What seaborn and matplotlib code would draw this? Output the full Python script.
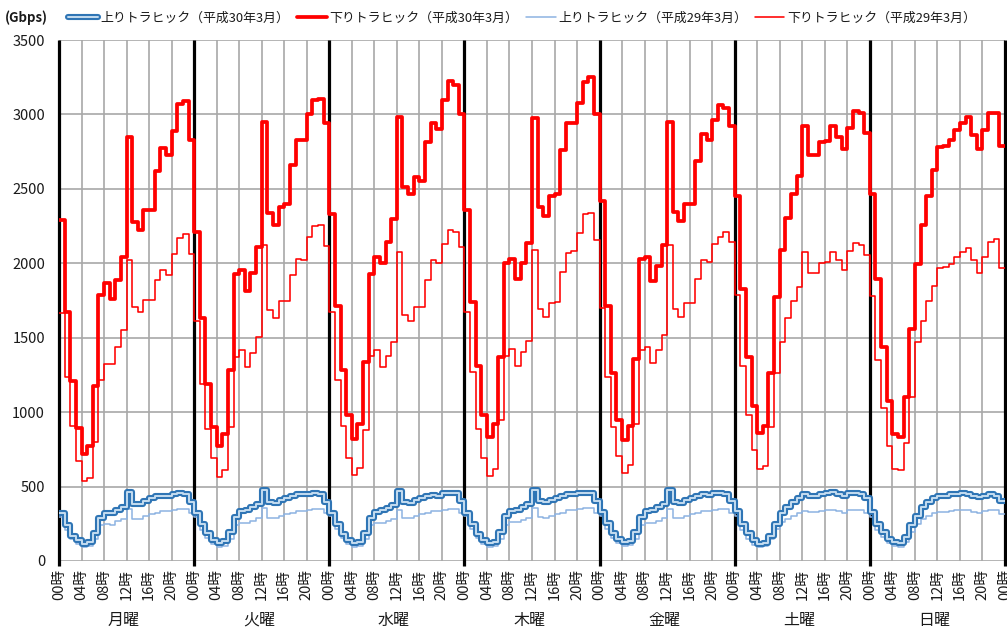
import numpy as np
import pandas as pd
import matplotlib
matplotlib.use("Agg")
import matplotlib.pyplot as plt
import matplotlib.transforms as mtransforms
import matplotlib.patheffects as pe
from matplotlib.lines import Line2D
import seaborn as sns

# Weekday names and hour labels along the x axis
days = ["月曜", "火曜", "水曜", "木曜", "金曜", "土曜", "日曜"]
hour_labels = ["00時", "04時", "08時", "12時", "16時", "20時"]
y_ticks = [0, 500, 1000, 1500, 2000, 2500, 3000, 3500]
unit_label = "(Gbps)"
series_labels = [
    "上りトラヒック（平成30年3月）",
    "下りトラヒック（平成30年3月）",
    "上りトラヒック（平成29年3月）",
    "下りトラヒック（平成29年3月）",
]

# Hourly traffic in Gbps, Monday 00h through Sunday 23h (one row per day)
up_h30 = [
    320, 240, 170, 140, 115, 130, 190, 290, 320, 320, 345, 365, 465, 380, 380, 405, 420, 435, 440, 435, 450, 455, 450, 395,
    320, 250, 185, 140, 120, 135, 195, 295, 335, 345, 365, 385, 480, 395, 390, 410, 425, 435, 450, 450, 450, 455, 450, 395,
    325, 250, 180, 140, 120, 130, 190, 290, 330, 340, 355, 375, 470, 395, 390, 410, 420, 440, 445, 440, 455, 460, 455, 400,
    325, 250, 180, 140, 120, 130, 195, 300, 335, 345, 360, 380, 480, 400, 395, 410, 425, 440, 450, 450, 455, 460, 455, 400,
    330, 255, 185, 145, 125, 135, 195, 295, 335, 340, 360, 380, 475, 395, 390, 410, 425, 440, 450, 445, 455, 460, 450, 400,
    335, 250, 185, 140, 115, 120, 170, 250, 320, 365, 395, 425, 450, 440, 440, 450, 455, 465, 450, 440, 455, 455, 450, 420,
    330, 250, 195, 150, 130, 120, 160, 240, 305, 360, 395, 420, 435, 440, 450, 450, 455, 450, 440, 430, 440, 450, 440, 405,
]
down_h30 = [
    2290, 1670, 1210, 895, 720, 770, 1175, 1790, 1870, 1760, 1890, 2040, 2850, 2280, 2225, 2360, 2360, 2620, 2775, 2725, 2890, 3070, 3090, 2825,
    2210, 1630, 1190, 900, 770, 850, 1285, 1930, 1955, 1815, 1935, 2110, 2950, 2335, 2260, 2380, 2400, 2660, 2825, 2825, 3005, 3100, 3105, 2940,
    2330, 1710, 1280, 980, 820, 920, 1335, 1930, 2040, 2000, 2145, 2295, 2985, 2510, 2465, 2580, 2555, 2815, 2940, 2900, 3095, 3225, 3195, 3005,
    2355, 1740, 1310, 980, 830, 920, 1370, 2005, 2030, 1895, 2000, 2135, 2975, 2380, 2315, 2450, 2465, 2760, 2940, 2940, 3075, 3215, 3250, 3005,
    2420, 1710, 1260, 950, 815, 910, 1360, 2030, 2040, 1880, 1985, 2125, 2950, 2345, 2285, 2395, 2395, 2690, 2870, 2825, 2960, 3065, 3040, 2920,
    2450, 1825, 1370, 1040, 860, 905, 1260, 1775, 2090, 2305, 2465, 2585, 2925, 2730, 2730, 2815, 2820, 2920, 2850, 2765, 2910, 3025, 3010, 2875,
    2465, 1895, 1435, 1075, 855, 835, 1100, 1560, 1995, 2255, 2455, 2625, 2780, 2790, 2825, 2895, 2940, 2985, 2860, 2770, 2895, 3010, 3010, 2790,
]
up_h29 = [
    295, 205, 150, 115, 95, 100, 150, 240, 250, 245, 270, 285, 350, 285, 285, 300, 315, 320, 335, 335, 345, 350, 350, 320,
    295, 210, 155, 115, 95, 100, 150, 240, 255, 255, 270, 290, 355, 290, 290, 305, 315, 325, 335, 335, 345, 350, 350, 320,
    300, 215, 155, 115, 95, 100, 150, 240, 255, 255, 270, 285, 345, 290, 290, 300, 315, 325, 335, 335, 345, 350, 350, 320,
    300, 215, 155, 115, 95, 100, 150, 245, 260, 260, 275, 290, 355, 295, 290, 305, 315, 325, 340, 340, 350, 355, 355, 325,
    300, 215, 155, 120, 100, 105, 150, 240, 255, 255, 270, 290, 350, 290, 290, 300, 315, 325, 335, 335, 345, 350, 350, 320,
    305, 210, 150, 110, 95, 100, 145, 215, 260, 285, 305, 320, 335, 330, 330, 335, 340, 345, 335, 320, 340, 345, 345, 320,
    295, 210, 160, 120, 100, 95, 130, 195, 250, 285, 305, 320, 330, 330, 335, 340, 345, 345, 330, 320, 335, 345, 345, 315,
]
down_h29 = [
    1665, 1235, 910, 670, 540, 555, 800, 1215, 1325, 1325, 1435, 1555, 2025, 1705, 1675, 1755, 1755, 1885, 1955, 1920, 2060, 2170, 2195, 2065,
    1610, 1190, 890, 690, 565, 610, 900, 1370, 1415, 1300, 1395, 1505, 2120, 1685, 1630, 1750, 1750, 1920, 2030, 2020, 2175, 2250, 2260, 2115,
    1670, 1215, 910, 690, 580, 625, 880, 1380, 1420, 1305, 1380, 1470, 2075, 1650, 1615, 1705, 1705, 1890, 2020, 2000, 2130, 2225, 2210, 2110,
    1670, 1270, 890, 690, 570, 620, 945, 1380, 1425, 1310, 1405, 1480, 2090, 1690, 1640, 1730, 1740, 1940, 2070, 2080, 2205, 2330, 2340, 2155,
    1700, 1235, 900, 705, 590, 645, 920, 1415, 1435, 1330, 1415, 1515, 2125, 1695, 1640, 1730, 1730, 1895, 2020, 2010, 2130, 2175, 2210, 2145,
    1790, 1310, 980, 745, 615, 635, 900, 1260, 1470, 1635, 1750, 1840, 2075, 1935, 1935, 2000, 2010, 2075, 2020, 1955, 2080, 2135, 2125, 2055,
    1780, 1350, 1025, 770, 620, 610, 790, 1100, 1470, 1615, 1750, 1850, 1965, 1975, 1995, 2045, 2075, 2105, 2020, 1935, 2040, 2145, 2160, 1970,
]

sns.set_style("white")
plt.rcParams["font.family"] = ["Noto Sans CJK JP", "DejaVu Sans"]


def held(values):
    # repeat the last hour so the final step is drawn to the end of Sunday
    return list(values) + [values[-1]]


n_hours = len(down_h30)
df = pd.DataFrame({
    "hour": np.arange(n_hours + 1),
    "up_h30": held(up_h30),
    "down_h30": held(down_h30),
    "up_h29": held(up_h29),
    "down_h29": held(down_h29),
})

RED = "#ff0000"
BLUE_EDGE = "#2f75b5"
BLUE_CORE = "#c5dcf0"
BLUE_THIN = "#8db3e2"
GRID = "#a8a8a8"

fig = plt.figure(figsize=(10.07, 6.32), dpi=100)
ax = fig.add_axes([59 / 1007, 71 / 632, 946 / 1007, 521 / 632])

double_blue = [pe.Stroke(linewidth=4.4, foreground=BLUE_EDGE), pe.Normal()]

sns.lineplot(data=df, x="hour", y="up_h29", ax=ax, drawstyle="steps-post",
             color=BLUE_THIN, lw=1.1, legend=False, zorder=3)
sns.lineplot(data=df, x="hour", y="up_h30", ax=ax, drawstyle="steps-post",
             color=BLUE_CORE, lw=1.4, legend=False, zorder=4,
             path_effects=double_blue)
sns.lineplot(data=df, x="hour", y="down_h29", ax=ax, drawstyle="steps-post",
             color=RED, lw=1.15, legend=False, zorder=5)
sns.lineplot(data=df, x="hour", y="down_h30", ax=ax, drawstyle="steps-post",
             color=RED, lw=2.7, legend=False, zorder=6)

ax.set_xlim(0, n_hours)
ax.set_ylim(y_ticks[0], y_ticks[-1])
ax.set_xlabel("")
ax.set_ylabel("")

# hour ticks every four hours, repeated for each day
xticks = np.arange(0, n_hours + 1, 4)
ax.set_xticks(xticks)
ax.set_xticklabels([hour_labels[i % len(hour_labels)] for i in range(len(xticks))],
                   rotation=90, fontsize=10.5)
ax.set_yticks(y_ticks)
ax.set_yticklabels([str(v) for v in y_ticks], fontsize=10.5)
ax.tick_params(axis="x", length=0, pad=6, labelcolor="#1a1a1a")
ax.tick_params(axis="y", length=0, pad=10, labelcolor="#1a1a1a")

ax.grid(True, color=GRID, lw=1.2, zorder=1)
ax.set_axisbelow(True)
for s in ax.spines.values():
    s.set_visible(False)

# day boundaries as heavy black rules
day_edges = np.arange(0, n_hours + 1, 24)
ax.vlines(day_edges, -35, y_ticks[-1], colors="black", lw=2.3, zorder=2, clip_on=False)

# weekday names centred under each day
trans = mtransforms.blended_transform_factory(ax.transData, fig.transFigure)
for i, d in enumerate(days):
    ax.text(i * 24 + 11.5, 1 - 620 / 632, d, transform=trans, ha="center", va="center",
            fontsize=11.5, color="#1a1a1a")

fig.text(5 / 1007, 1 - 18 / 632, unit_label, ha="left", va="center",
         fontsize=9.5, fontweight="bold", color="#1a1a1a")

handles = [
    Line2D([], [], color=BLUE_CORE, lw=1.4, path_effects=double_blue),
    Line2D([], [], color=RED, lw=2.7),
    Line2D([], [], color=BLUE_THIN, lw=1.1),
    Line2D([], [], color=RED, lw=1.15),
]
leg = fig.legend(handles, series_labels, loc="center left",
                 bbox_to_anchor=(68 / 1007, 1 - 18 / 632), ncol=4, frameon=False,
                 fontsize=9.3, handlelength=2.3, handletextpad=0.2, columnspacing=0.6,
                 borderaxespad=0, borderpad=0)
for t in leg.get_texts():
    t.set_color("#1a1a1a")

fig.savefig("out.png", dpi=100)
